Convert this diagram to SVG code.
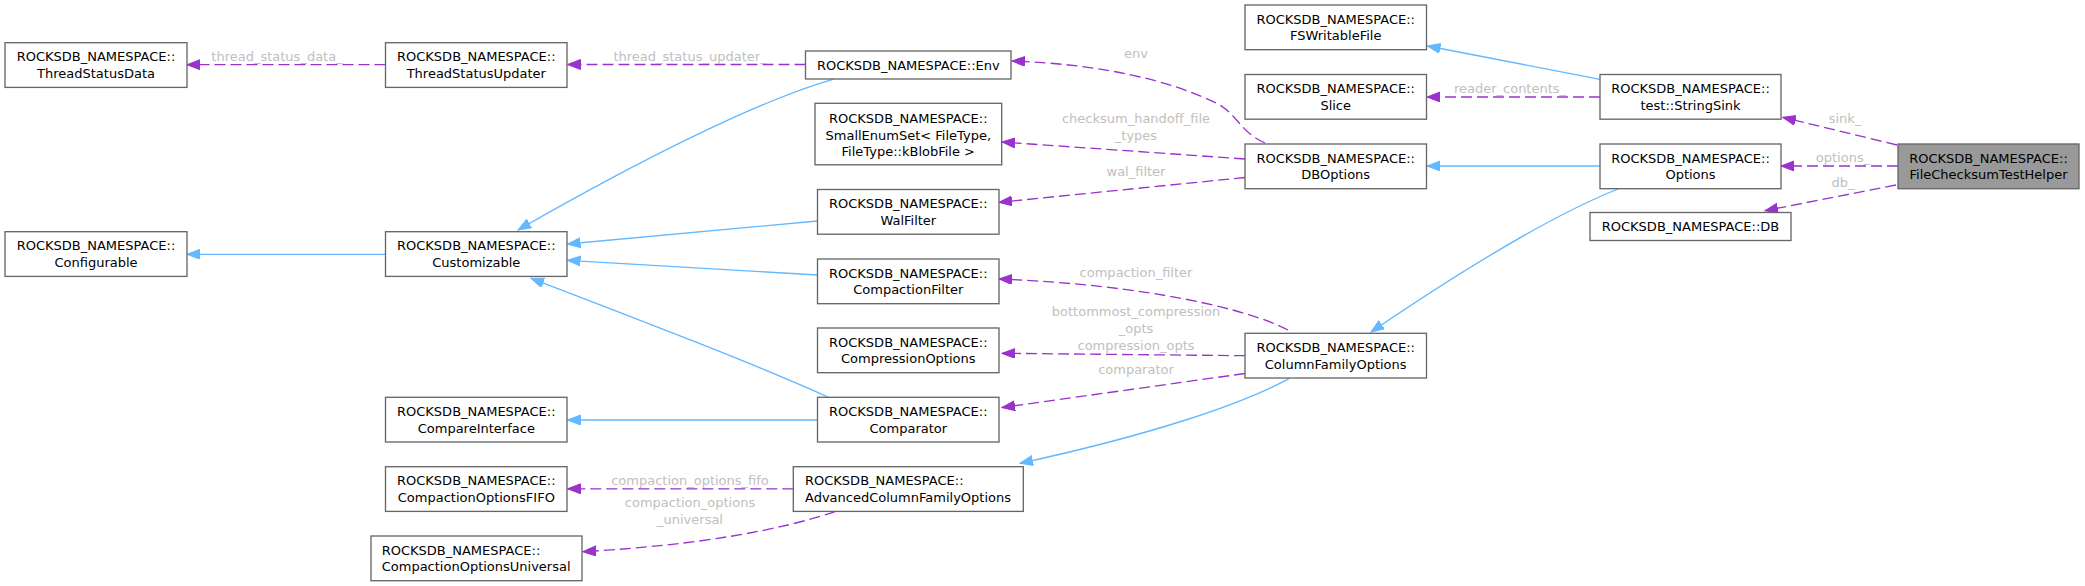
<svg xmlns="http://www.w3.org/2000/svg" width="2085" height="586" viewBox="0 0 2085 586">
<style>
.n rect{fill:#ffffff;stroke:#666666;stroke-width:1.33}
.n.hl rect{fill:#999999}
.n text{font-family:"DejaVu Sans",sans-serif;font-size:13px;fill:#000000;text-anchor:middle}
.n text.l{text-anchor:start}
.e{fill:none;stroke-width:1.33}
.inh{stroke:#63b8ff;marker-end:url(#ab)}
.mem{stroke:#9a32cd;stroke-dasharray:11,5;marker-end:url(#ap)}
.lbl{font-family:"DejaVu Sans",sans-serif;font-size:13px;fill:#c0c0c0;text-anchor:middle}
</style>
<defs>
<marker id="ab" markerUnits="userSpaceOnUse" markerWidth="14" markerHeight="11" refX="13" refY="5" orient="auto" viewBox="0 0 14 11"><path d="M0,0 L13,5 L0,10 z" fill="#63b8ff" stroke="#63b8ff"/></marker>
<marker id="ap" markerUnits="userSpaceOnUse" markerWidth="14" markerHeight="11" refX="13" refY="5" orient="auto" viewBox="0 0 14 11"><path d="M0,0 L13,5 L0,10 z" fill="#9a32cd" stroke="#9a32cd"/></marker>
</defs>
<rect width="2085" height="586" fill="#ffffff"/>
<g id="connectors">
<path class="e inh" d="M1600,166 L1427,166"/>
<path class="e inh" d="M1600,79.3 L1427.5,46"/>
<path class="e inh" d="M1618,189 C1560,212 1480,258 1371,332"/>
<path class="e inh" d="M1289,378.7 C1240,405 1150,435 1020,463.3"/>
<path class="e inh" d="M833,79.3 C760,100 640,160 518,230"/>
<path class="e inh" d="M817.5,221 L567.5,244"/>
<path class="e inh" d="M817.5,275 L567.5,260.3"/>
<path class="e inh" d="M828,397 C760,366 640,320 531,278.3"/>
<path class="e inh" d="M385.5,254.3 L187,254.3"/>
<path class="e inh" d="M817.5,420 L567.5,420"/>
<path class="e mem" d="M1897,145 L1782.7,117.3"/>
<path class="e mem" d="M1898,166 L1781,166"/>
<path class="e mem" d="M1896,185 L1765,210.7"/>
<path class="e mem" d="M1600,97 L1427,97"/>
<path class="e mem" d="M1265,143 C1240,132 1238,115 1218,104 C1170,80 1100,64 1012,61"/>
<path class="e mem" d="M1245,159 L1002,142"/>
<path class="e mem" d="M1245,177.5 L999,202.3"/>
<path class="e mem" d="M1288,330 C1250,310 1150,285 999,279"/>
<path class="e mem" d="M1245,355.7 L1002,353.3"/>
<path class="e mem" d="M1245,373.5 L1002,407.5"/>
<path class="e mem" d="M385.5,64.7 L187,64.7"/>
<path class="e mem" d="M805.5,64.5 L567.5,64.5"/>
<path class="e mem" d="M793.3,488.8 L567.5,488.8"/>
<path class="e mem" d="M835,511.7 C780,530 700,545 583,551.7"/>
<text class="lbl" x="1845" y="123">sink_</text>
<text class="lbl" x="1843" y="162">options_</text>
<text class="lbl" x="1843" y="186.5">db_</text>
<text class="lbl" x="1510" y="93">reader_contents_</text>
<text class="lbl" x="1136" y="57.5">env</text>
<text class="lbl" x="1136" y="123">checksum_handoff_file</text>
<text class="lbl" x="1136" y="140">_types</text>
<text class="lbl" x="1136" y="176">wal_filter</text>
<text class="lbl" x="1136" y="276.5">compaction_filter</text>
<text class="lbl" x="1136" y="316">bottommost_compression</text>
<text class="lbl" x="1136" y="333">_opts</text>
<text class="lbl" x="1136" y="350">compression_opts</text>
<text class="lbl" x="1136" y="373.5">comparator</text>
<text class="lbl" x="277" y="61">thread_status_data_</text>
<text class="lbl" x="690" y="60.5">thread_status_updater_</text>
<text class="lbl" x="690" y="485">compaction_options_fifo</text>
<text class="lbl" x="690" y="507">compaction_options</text>
<text class="lbl" x="690" y="524">_universal</text>
</g>
<g id="FileChecksumTestHelper" class="n hl"><rect x="1898" y="144" width="181" height="44.7"/><text x="1988.5" y="162.7">ROCKSDB_NAMESPACE::</text><text x="1988.5" y="179.4">FileChecksumTestHelper</text></g>
<g id="StringSink" class="n"><rect x="1600" y="74.5" width="181" height="44.7"/><text x="1690.5" y="93.2">ROCKSDB_NAMESPACE::</text><text x="1690.5" y="109.9">test::StringSink</text></g>
<g id="Options" class="n"><rect x="1600" y="144" width="181" height="44.7"/><text x="1690.5" y="162.7">ROCKSDB_NAMESPACE::</text><text x="1690.5" y="179.4">Options</text></g>
<g id="DB" class="n"><rect x="1590" y="212.5" width="201" height="28"/><text x="1690.5" y="231.2">ROCKSDB_NAMESPACE::DB</text></g>
<g id="FSWritableFile" class="n"><rect x="1245" y="5" width="181.5" height="44.7"/><text x="1335.7" y="23.7">ROCKSDB_NAMESPACE::</text><text x="1335.7" y="40.4">FSWritableFile</text></g>
<g id="Slice" class="n"><rect x="1245" y="74.5" width="181.5" height="44.7"/><text x="1335.7" y="93.2">ROCKSDB_NAMESPACE::</text><text x="1335.7" y="109.9">Slice</text></g>
<g id="DBOptions" class="n"><rect x="1245" y="144" width="181.5" height="44.7"/><text x="1335.7" y="162.7">ROCKSDB_NAMESPACE::</text><text x="1335.7" y="179.4">DBOptions</text></g>
<g id="ColumnFamilyOptions" class="n"><rect x="1245" y="333.3" width="181.5" height="44.7"/><text x="1335.7" y="352">ROCKSDB_NAMESPACE::</text><text x="1335.7" y="368.7">ColumnFamilyOptions</text></g>
<g id="Env" class="n"><rect x="805.5" y="51" width="205.5" height="28"/><text x="908.3" y="69.7">ROCKSDB_NAMESPACE::Env</text></g>
<g id="SmallEnumSet" class="n"><rect x="815" y="103.3" width="186.7" height="61.5"/><text x="908.3" y="123">ROCKSDB_NAMESPACE::</text><text x="908.3" y="139.5">SmallEnumSet&lt; FileType,</text><text x="908.3" y="156">FileType::kBlobFile &gt;</text></g>
<g id="WalFilter" class="n"><rect x="817.5" y="189.5" width="181.5" height="44.7"/><text x="908.3" y="208.2">ROCKSDB_NAMESPACE::</text><text x="908.3" y="224.9">WalFilter</text></g>
<g id="CompactionFilter" class="n"><rect x="817.5" y="259" width="181.5" height="44.7"/><text x="908.3" y="277.7">ROCKSDB_NAMESPACE::</text><text x="908.3" y="294.4">CompactionFilter</text></g>
<g id="CompressionOptions" class="n"><rect x="817.5" y="328" width="181.5" height="44.7"/><text x="908.3" y="346.7">ROCKSDB_NAMESPACE::</text><text x="908.3" y="363.4">CompressionOptions</text></g>
<g id="Comparator" class="n"><rect x="817.5" y="397.3" width="181.5" height="44.7"/><text x="908.3" y="416">ROCKSDB_NAMESPACE::</text><text x="908.3" y="432.7">Comparator</text></g>
<g id="AdvancedColumnFamilyOptions" class="n"><rect x="793.3" y="466.7" width="230" height="44.7"/><text class="l" x="805" y="485.4">ROCKSDB_NAMESPACE::</text><text class="l" x="805" y="502.1">AdvancedColumnFamilyOptions</text></g>
<g id="ThreadStatusUpdater" class="n"><rect x="385.5" y="42.7" width="181.5" height="44.7"/><text x="476.3" y="61.4">ROCKSDB_NAMESPACE::</text><text x="476.3" y="78.1">ThreadStatusUpdater</text></g>
<g id="Customizable" class="n"><rect x="385.5" y="231.7" width="181.5" height="44.7"/><text x="476.3" y="250.4">ROCKSDB_NAMESPACE::</text><text x="476.3" y="267.1">Customizable</text></g>
<g id="CompareInterface" class="n"><rect x="385.5" y="397.3" width="181.5" height="44.7"/><text x="476.3" y="416">ROCKSDB_NAMESPACE::</text><text x="476.3" y="432.7">CompareInterface</text></g>
<g id="CompactionOptionsFIFO" class="n"><rect x="385.5" y="466.7" width="181.5" height="44.7"/><text x="476.3" y="485.4">ROCKSDB_NAMESPACE::</text><text x="476.3" y="502.1">CompactionOptionsFIFO</text></g>
<g id="CompactionOptionsUniversal" class="n"><rect x="371" y="536" width="211" height="44.7"/><text class="l" x="381.7" y="554.7">ROCKSDB_NAMESPACE::</text><text class="l" x="381.7" y="571.4">CompactionOptionsUniversal</text></g>
<g id="ThreadStatusData" class="n"><rect x="5" y="42.7" width="182" height="44.7"/><text x="96" y="61.4">ROCKSDB_NAMESPACE::</text><text x="96" y="78.1">ThreadStatusData</text></g>
<g id="Configurable" class="n"><rect x="5" y="231.7" width="182" height="44.7"/><text x="96" y="250.4">ROCKSDB_NAMESPACE::</text><text x="96" y="267.1">Configurable</text></g>
</svg>
